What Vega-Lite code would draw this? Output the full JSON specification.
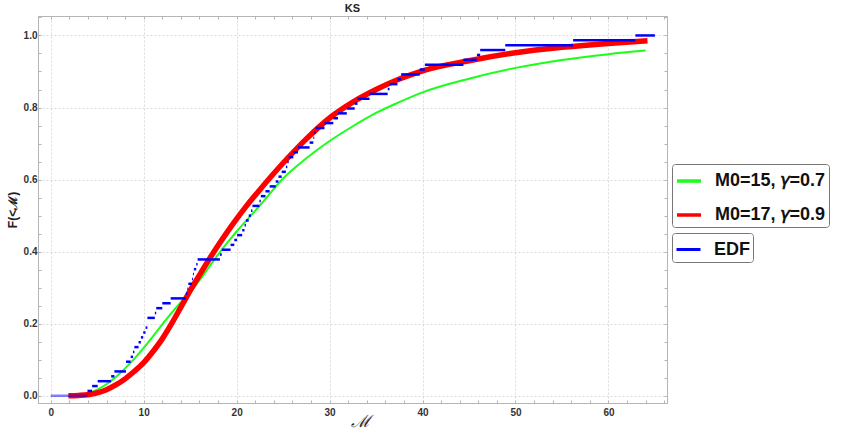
{
  "$schema": "https://vega.github.io/schema/vega-lite/v6.json",
  "autosize": "none",
  "width": 629,
  "height": 387,
  "padding": {"left": 38, "top": 16, "right": 176, "bottom": 31},
  "background": "white",
  "title": {"text": "KS", "fontSize": 11, "font": "Liberation Sans", "fontWeight": "bold", "color": "#222", "offset": -2, "anchor": "middle"},
  "datasets": {
    "curves": [
      {"series": "M0=15, 𝛾=0.7", "M": 1.9, "F": 0.0},
      {"series": "M0=15, 𝛾=0.7", "M": 3, "F": 0.002},
      {"series": "M0=15, 𝛾=0.7", "M": 4, "F": 0.007},
      {"series": "M0=15, 𝛾=0.7", "M": 5, "F": 0.017},
      {"series": "M0=15, 𝛾=0.7", "M": 6, "F": 0.032},
      {"series": "M0=15, 𝛾=0.7", "M": 7, "F": 0.052},
      {"series": "M0=15, 𝛾=0.7", "M": 8, "F": 0.076},
      {"series": "M0=15, 𝛾=0.7", "M": 9, "F": 0.103},
      {"series": "M0=15, 𝛾=0.7", "M": 10, "F": 0.133},
      {"series": "M0=15, 𝛾=0.7", "M": 11, "F": 0.165},
      {"series": "M0=15, 𝛾=0.7", "M": 12, "F": 0.198},
      {"series": "M0=15, 𝛾=0.7", "M": 13, "F": 0.23},
      {"series": "M0=15, 𝛾=0.7", "M": 14, "F": 0.26},
      {"series": "M0=15, 𝛾=0.7", "M": 15, "F": 0.288},
      {"series": "M0=15, 𝛾=0.7", "M": 16, "F": 0.32},
      {"series": "M0=15, 𝛾=0.7", "M": 17, "F": 0.356},
      {"series": "M0=15, 𝛾=0.7", "M": 18, "F": 0.392},
      {"series": "M0=15, 𝛾=0.7", "M": 19, "F": 0.425},
      {"series": "M0=15, 𝛾=0.7", "M": 20, "F": 0.456},
      {"series": "M0=15, 𝛾=0.7", "M": 21, "F": 0.485},
      {"series": "M0=15, 𝛾=0.7", "M": 22.5, "F": 0.528},
      {"series": "M0=15, 𝛾=0.7", "M": 25, "F": 0.603},
      {"series": "M0=15, 𝛾=0.7", "M": 27.5, "F": 0.659},
      {"series": "M0=15, 𝛾=0.7", "M": 30, "F": 0.707},
      {"series": "M0=15, 𝛾=0.7", "M": 32.5, "F": 0.748},
      {"series": "M0=15, 𝛾=0.7", "M": 35, "F": 0.785},
      {"series": "M0=15, 𝛾=0.7", "M": 37.5, "F": 0.815},
      {"series": "M0=15, 𝛾=0.7", "M": 40, "F": 0.842},
      {"series": "M0=15, 𝛾=0.7", "M": 45, "F": 0.88},
      {"series": "M0=15, 𝛾=0.7", "M": 50, "F": 0.91},
      {"series": "M0=15, 𝛾=0.7", "M": 55, "F": 0.932},
      {"series": "M0=15, 𝛾=0.7", "M": 60, "F": 0.948},
      {"series": "M0=15, 𝛾=0.7", "M": 64, "F": 0.958},
      {"series": "M0=17, 𝛾=0.9", "M": 1.9, "F": 0.0},
      {"series": "M0=17, 𝛾=0.9", "M": 3, "F": 0.001},
      {"series": "M0=17, 𝛾=0.9", "M": 4, "F": 0.003},
      {"series": "M0=17, 𝛾=0.9", "M": 5, "F": 0.008},
      {"series": "M0=17, 𝛾=0.9", "M": 6, "F": 0.017},
      {"series": "M0=17, 𝛾=0.9", "M": 7, "F": 0.03},
      {"series": "M0=17, 𝛾=0.9", "M": 8, "F": 0.047},
      {"series": "M0=17, 𝛾=0.9", "M": 9, "F": 0.068},
      {"series": "M0=17, 𝛾=0.9", "M": 10, "F": 0.092},
      {"series": "M0=17, 𝛾=0.9", "M": 11, "F": 0.123},
      {"series": "M0=17, 𝛾=0.9", "M": 12, "F": 0.158},
      {"series": "M0=17, 𝛾=0.9", "M": 13, "F": 0.2},
      {"series": "M0=17, 𝛾=0.9", "M": 14, "F": 0.246},
      {"series": "M0=17, 𝛾=0.9", "M": 15, "F": 0.292},
      {"series": "M0=17, 𝛾=0.9", "M": 16, "F": 0.335},
      {"series": "M0=17, 𝛾=0.9", "M": 17, "F": 0.377},
      {"series": "M0=17, 𝛾=0.9", "M": 18, "F": 0.417},
      {"series": "M0=17, 𝛾=0.9", "M": 19, "F": 0.455},
      {"series": "M0=17, 𝛾=0.9", "M": 20, "F": 0.491},
      {"series": "M0=17, 𝛾=0.9", "M": 21, "F": 0.525},
      {"series": "M0=17, 𝛾=0.9", "M": 22.5, "F": 0.572},
      {"series": "M0=17, 𝛾=0.9", "M": 25, "F": 0.646},
      {"series": "M0=17, 𝛾=0.9", "M": 27.5, "F": 0.713},
      {"series": "M0=17, 𝛾=0.9", "M": 30, "F": 0.771},
      {"series": "M0=17, 𝛾=0.9", "M": 32.5, "F": 0.815},
      {"series": "M0=17, 𝛾=0.9", "M": 35, "F": 0.85},
      {"series": "M0=17, 𝛾=0.9", "M": 37.5, "F": 0.879},
      {"series": "M0=17, 𝛾=0.9", "M": 40, "F": 0.902},
      {"series": "M0=17, 𝛾=0.9", "M": 45, "F": 0.93},
      {"series": "M0=17, 𝛾=0.9", "M": 50, "F": 0.952},
      {"series": "M0=17, 𝛾=0.9", "M": 55, "F": 0.967},
      {"series": "M0=17, 𝛾=0.9", "M": 60, "F": 0.978},
      {"series": "M0=17, 𝛾=0.9", "M": 64.2, "F": 0.985}
    ],
    "edf": [
      {"M0": 0, "M1": 3.95, "F": 0},
      {"M0": 3.95, "M1": 4.45, "F": 0.0135},
      {"M0": 4.45, "M1": 5.05, "F": 0.027},
      {"M0": 5.05, "M1": 6.5, "F": 0.0405},
      {"M0": 6.5, "M1": 6.85, "F": 0.0541},
      {"M0": 6.85, "M1": 8.1, "F": 0.0676},
      {"M0": 8.1, "M1": 8.6, "F": 0.0946},
      {"M0": 8.6, "M1": 8.85, "F": 0.1081},
      {"M0": 8.85, "M1": 9.0, "F": 0.1216},
      {"M0": 9.0, "M1": 9.45, "F": 0.1351},
      {"M0": 9.45, "M1": 9.7, "F": 0.1486},
      {"M0": 9.7, "M1": 9.95, "F": 0.1622},
      {"M0": 9.95, "M1": 10.2, "F": 0.1757},
      {"M0": 10.2, "M1": 10.4, "F": 0.1892},
      {"M0": 10.4, "M1": 11.2, "F": 0.2162},
      {"M0": 11.2, "M1": 11.35, "F": 0.2297},
      {"M0": 11.35, "M1": 12.0, "F": 0.2432},
      {"M0": 12.0, "M1": 12.9, "F": 0.2568},
      {"M0": 12.9, "M1": 14.55, "F": 0.2703},
      {"M0": 14.55, "M1": 14.7, "F": 0.2838},
      {"M0": 14.7, "M1": 14.8, "F": 0.2973},
      {"M0": 14.8, "M1": 15.2, "F": 0.3108},
      {"M0": 15.2, "M1": 15.3, "F": 0.3243},
      {"M0": 15.3, "M1": 15.4, "F": 0.3378},
      {"M0": 15.4, "M1": 15.65, "F": 0.3514},
      {"M0": 15.65, "M1": 15.8, "F": 0.3649},
      {"M0": 15.8, "M1": 18.2, "F": 0.3784},
      {"M0": 18.2, "M1": 18.4, "F": 0.3919},
      {"M0": 18.4, "M1": 19.35, "F": 0.4054},
      {"M0": 19.35, "M1": 19.75, "F": 0.4189},
      {"M0": 19.75, "M1": 20.05, "F": 0.4324},
      {"M0": 20.05, "M1": 20.6, "F": 0.4459},
      {"M0": 20.6, "M1": 20.85, "F": 0.4595},
      {"M0": 20.85, "M1": 21.0, "F": 0.473},
      {"M0": 21.0, "M1": 21.3, "F": 0.4865},
      {"M0": 21.3, "M1": 21.55, "F": 0.5},
      {"M0": 21.55, "M1": 21.7, "F": 0.5135},
      {"M0": 21.7, "M1": 22.45, "F": 0.527},
      {"M0": 22.45, "M1": 22.6, "F": 0.5405},
      {"M0": 22.6, "M1": 23.1, "F": 0.5541},
      {"M0": 23.1, "M1": 23.55, "F": 0.5676},
      {"M0": 23.55, "M1": 24.2, "F": 0.5811},
      {"M0": 24.2, "M1": 24.5, "F": 0.5946},
      {"M0": 24.5, "M1": 24.85, "F": 0.6081},
      {"M0": 24.85, "M1": 25.3, "F": 0.6216},
      {"M0": 25.3, "M1": 25.45, "F": 0.6351},
      {"M0": 25.45, "M1": 25.6, "F": 0.6486},
      {"M0": 25.6, "M1": 26.1, "F": 0.6622},
      {"M0": 26.1, "M1": 26.6, "F": 0.6757},
      {"M0": 26.6, "M1": 27.85, "F": 0.6892},
      {"M0": 27.85, "M1": 28.25, "F": 0.7027},
      {"M0": 28.25, "M1": 28.35, "F": 0.7162},
      {"M0": 28.35, "M1": 28.5, "F": 0.7297},
      {"M0": 28.5, "M1": 29.45, "F": 0.7432},
      {"M0": 29.45, "M1": 30.4, "F": 0.7568},
      {"M0": 30.4, "M1": 30.9, "F": 0.7703},
      {"M0": 30.9, "M1": 31.85, "F": 0.7838},
      {"M0": 31.85, "M1": 32.7, "F": 0.7973},
      {"M0": 32.7, "M1": 33.0, "F": 0.8108},
      {"M0": 33.0, "M1": 34.3, "F": 0.8243},
      {"M0": 34.3, "M1": 36.25, "F": 0.8378},
      {"M0": 36.25, "M1": 36.45, "F": 0.8514},
      {"M0": 36.45, "M1": 37.3, "F": 0.8649},
      {"M0": 37.3, "M1": 37.7, "F": 0.8784},
      {"M0": 37.7, "M1": 39.7, "F": 0.8919},
      {"M0": 39.7, "M1": 40.25, "F": 0.9054},
      {"M0": 40.25, "M1": 44.4, "F": 0.9189},
      {"M0": 44.4, "M1": 45.85, "F": 0.9324},
      {"M0": 45.85, "M1": 46.2, "F": 0.9459},
      {"M0": 46.2, "M1": 48.9, "F": 0.9595},
      {"M0": 48.9, "M1": 56.2, "F": 0.973},
      {"M0": 56.2, "M1": 62.9, "F": 0.9865},
      {"M0": 62.9, "M1": 65.0, "F": 1.0}
    ]
  },
  "resolve": {"axis": {"x": "independent", "y": "independent"}},
  "layer": [
    {
      "data": {"name": "curves"},
      "transform": [{"filter": "datum.series === 'M0=15, 𝛾=0.7'"}],
      "mark": {"type": "line", "strokeWidth": 2, "interpolate": "monotone"},
      "encoding": {
        "x": {
          "field": "M", "type": "quantitative",
          "scale": {"domain": [-1.37, 66.3], "nice": false, "zero": false},
          "axis": {
            "title": "ℳ",
            "titleFont": "DejaVu Serif", "titleFontStyle": "italic", "titleFontSize": 17, "titleFontWeight": "normal",
            "titleColor": "#222", "titleX": 322, "titleY": 18, "titleBaseline": "middle", "titleAnchor": null,
            "values": [0, 2, 4, 6, 8, 10, 12, 14, 16, 18, 20, 22, 24, 26, 28, 30, 32, 34, 36, 38, 40, 42, 44, 46, 48, 50, 52, 54, 56, 58, 60, 62, 64, 66],
            "labelExpr": "abs(datum.value/10 - round(datum.value/10)) < 0.001 ? format(datum.value, 'd') : ''",
            "labelOverlap": false,
            "gridOpacity": {"condition": {"test": "abs(datum.value/10 - round(datum.value/10)) < 0.001", "value": 1}, "value": 0},
            "tickSize": -3,
            "labelPadding": 7
          }
        },
        "y": {
          "field": "F", "type": "quantitative",
          "scale": {"domain": [-0.02, 1.054], "nice": false, "zero": false},
          "axis": {
            "title": "F(<ℳ)",
            "titleFontSize": 12, "titlePadding": 4,
            "values": [0, 0.05, 0.1, 0.15, 0.2, 0.25, 0.3, 0.35, 0.4, 0.45, 0.5, 0.55, 0.6, 0.65, 0.7, 0.75, 0.8, 0.85, 0.9, 0.95, 1.0, 1.05],
            "labelExpr": "abs(datum.value*5 - round(datum.value*5)) < 0.001 ? format(datum.value, '.1f') : ''",
            "labelOverlap": false,
            "gridOpacity": {"condition": {"test": "abs(datum.value*5 - round(datum.value*5)) < 0.001", "value": 1}, "value": 0},
            "tickSize": -3,
            "labelPadding": 4
          }
        },
        "color": {
          "field": "series", "type": "nominal",
          "scale": {"domain": ["M0=15, 𝛾=0.7", "M0=17, 𝛾=0.9"], "range": ["#1aff1a", "#ff0000"]},
          "legend": {
            "title": null, "orient": "none", "legendX": 634, "legendY": 148,
            "symbolType": "stroke", "symbolSize": 576, "symbolStrokeWidth": 3.5,
            "labelFontSize": 18, "labelFont": "Liberation Sans", "labelFontWeight": "bold", "labelColor": "#111",
            "labelOffset": 12, "rowPadding": 11, "padding": 3,
            "strokeColor": "#777", "cornerRadius": 3, "fillColor": "white", "labelLimit": 300
          }
        }
      }
    },
    {
      "data": {"name": "curves"},
      "transform": [{"filter": "datum.series === 'M0=17, 𝛾=0.9'"}],
      "mark": {"type": "line", "strokeWidth": 5.5, "interpolate": "monotone"},
      "encoding": {
        "x": {"field": "M", "type": "quantitative", "axis": null},
        "y": {"field": "F", "type": "quantitative", "axis": null},
        "color": {"field": "series", "type": "nominal"}
      }
    },
    {
      "data": {"name": "edf"},
      "mark": {"type": "rule", "strokeWidth": 2.5},
      "encoding": {
        "x": {"field": "M0", "type": "quantitative",
          "axis": {
            "orient": "top", "title": null, "labels": false, "grid": false, "domain": false,
            "values": [0, 2, 4, 6, 8, 10, 12, 14, 16, 18, 20, 22, 24, 26, 28, 30, 32, 34, 36, 38, 40, 42, 44, 46, 48, 50, 52, 54, 56, 58, 60, 62, 64, 66],
            "tickSize": -3, "minExtent": 0, "maxExtent": 0, "labelPadding": 0
          }
        },
        "x2": {"field": "M1"},
        "y": {"field": "F", "type": "quantitative",
          "axis": {
            "orient": "right", "title": null, "labels": false, "grid": false, "domain": false,
            "values": [0, 0.05, 0.1, 0.15, 0.2, 0.25, 0.3, 0.35, 0.4, 0.45, 0.5, 0.55, 0.6, 0.65, 0.7, 0.75, 0.8, 0.85, 0.9, 0.95, 1.0, 1.05],
            "tickSize": -3, "minExtent": 0, "maxExtent": 0, "labelPadding": 0
          }
        },
        "opacity": {"condition": {"test": "datum.F === 0", "value": 0.5}, "value": 1},
        "stroke": {
          "datum": "EDF", "type": "nominal",
          "scale": {"domain": ["EDF"], "range": ["#0000ff"]},
          "legend": {
            "title": null, "orient": "none", "legendX": 634, "legendY": 217,
            "symbolType": "stroke", "symbolSize": 576, "symbolStrokeWidth": 3,
            "labelFontSize": 18, "labelFont": "Liberation Sans", "labelFontWeight": "bold", "labelColor": "#111",
            "labelOffset": 12, "padding": 3,
            "strokeColor": "#777", "cornerRadius": 3, "fillColor": "white"
          }
        }
      }
    }
  ],
  "config": {
    "view": {"stroke": "#b5b5b5"},
    "axis": {
      "labelFont": "Liberation Sans", "labelFontWeight": "bold", "labelFontSize": 10, "labelColor": "#333",
      "titleFont": "Liberation Sans", "titleFontWeight": "bold", "titleColor": "#222",
      "domainColor": "#b5b5b5", "tickColor": "#b5b5b5",
      "gridColor": "#d0d0d0", "gridDash": [2, 2], "gridWidth": 0.8
    }
  }
}
